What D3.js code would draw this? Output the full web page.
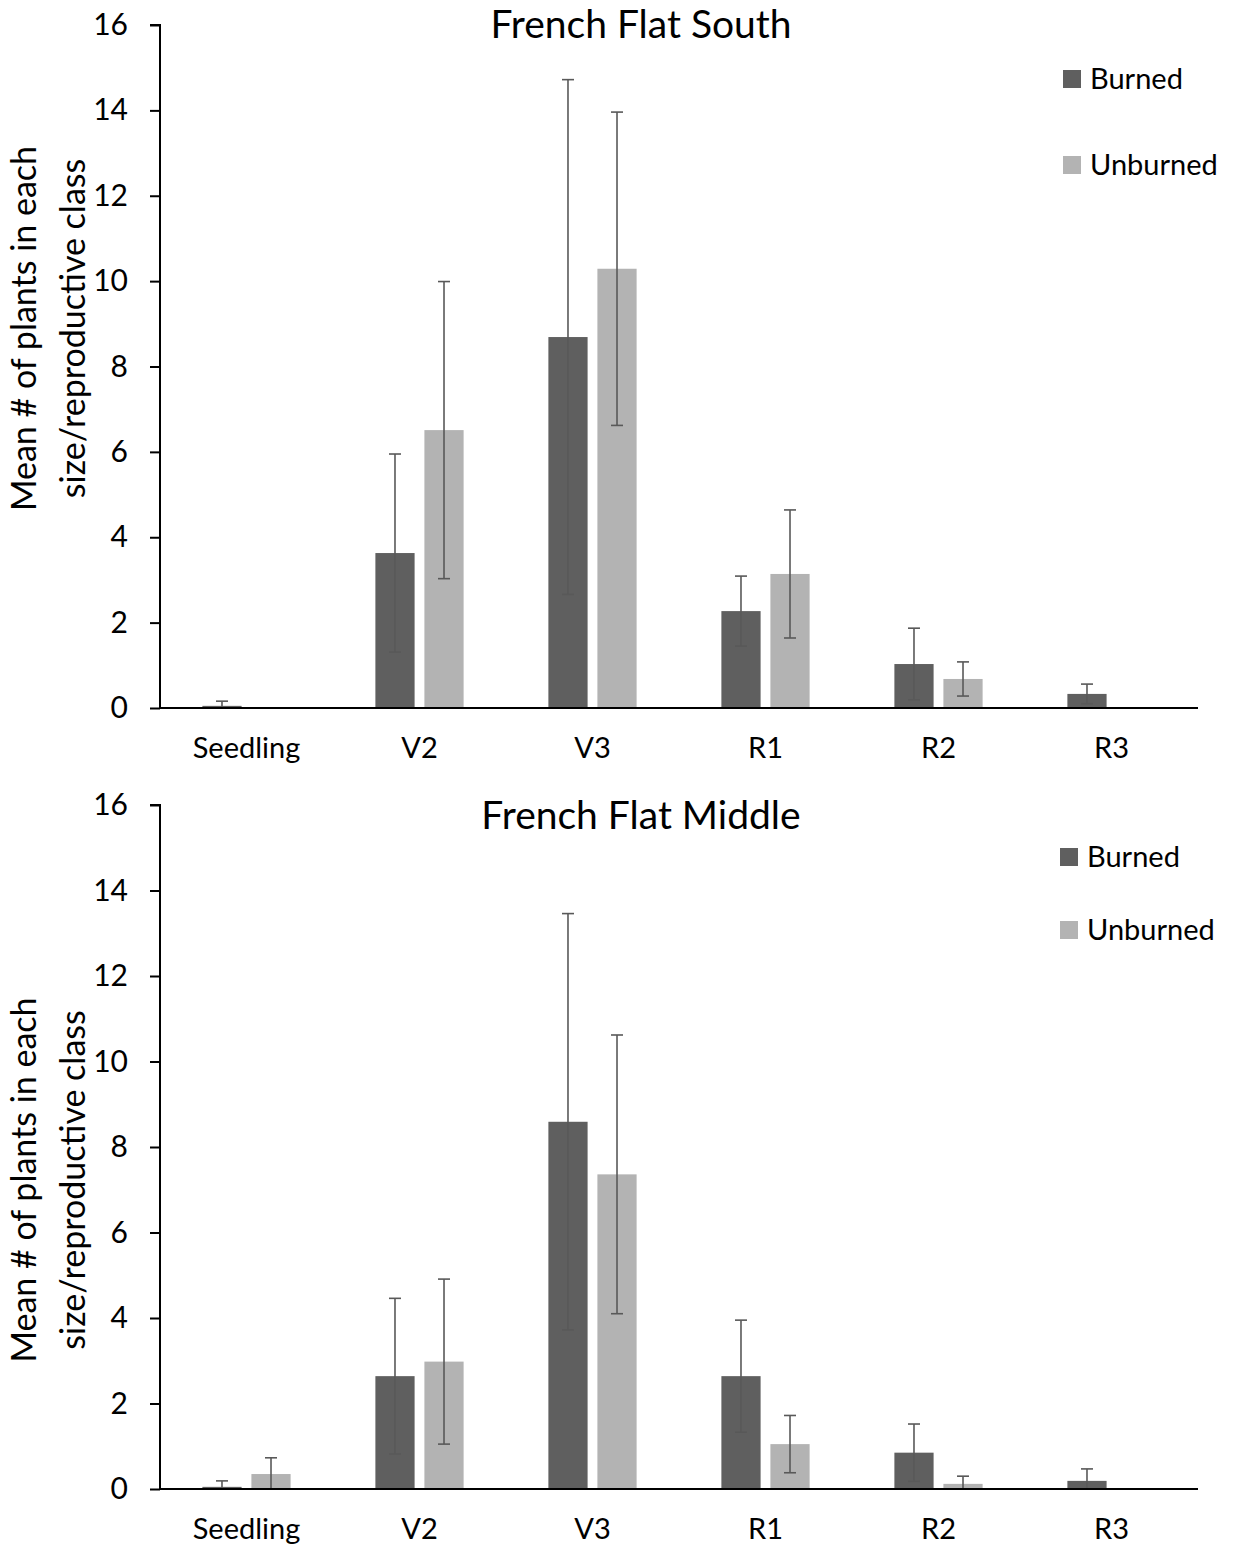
<!DOCTYPE html>
<html>
<head>
<meta charset="utf-8">
<script src="https://cdn.jsdelivr.net/npm/d3@7"></script>
<style>
  body { margin: 0; background: #fff; }
  svg text { font-family: Lato, "Open Sans", sans-serif; fill: #000; }
</style>
</head>
<body>
<div id="chart"></div>
<script>
const categories = ["Seedling", "V2", "V3", "R1", "R2", "R3"];
const series = ["Burned", "Unburned"];
const yTicks = [0, 2, 4, 6, 8, 10, 12, 14, 16];

// French Flat South
const southBurned = [0.05, 3.63, 8.69, 2.27, 1.03, 0.33];
const southUnburned = [0.01, 6.51, 10.29, 3.14, 0.68, 0.01];
const southBurnedErr = [0.11, 2.32, 6.03, 0.82, 0.84, 0.23];
const southUnburnedErr = [0, 3.48, 3.67, 1.5, 0.4, 0];

// French Flat Middle
const middleBurned = [0.05, 2.64, 8.59, 2.64, 0.85, 0.19];
const middleUnburned = [0.35, 2.98, 7.36, 1.05, 0.12, 0];
const middleBurnedErr = [0.14, 1.82, 4.87, 1.31, 0.67, 0.28];
const middleUnburnedErr = [0.38, 1.93, 3.26, 0.67, 0.18, 0];

const colors = { Burned: "#5f5f5f", Unburned: "#b3b3b3" };

const width = 1233, height = 1546;
const svg = d3.select("#chart").append("svg")
    .attr("width", width)
    .attr("height", height);

const x = d3.scaleBand()
    .domain(categories)
    .range([160, 1198])
    .paddingInner(0.49)
    .paddingOuter(0.245);

const x1 = d3.scaleBand()
    .domain(series)
    .range([0, x.bandwidth()])
    .paddingInner(0.2);

function panel(opts) {
    const y = d3.scaleLinear().domain([0, 16]).range([opts.y0, opts.y16]);
    const g = svg.append("g");

    const rows = [];
    categories.forEach((c, i) => {
        rows.push({ cat: c, s: "Burned", v: opts.burned[i], e: opts.burnedErr[i] });
        rows.push({ cat: c, s: "Unburned", v: opts.unburned[i], e: opts.unburnedErr[i] });
    });

    g.selectAll("rect.bar")
        .data(rows)
        .enter()
        .append("rect")
        .attr("class", "bar")
        .attr("x", d => x(d.cat) + x1(d.s))
        .attr("y", d => y(d.v))
        .attr("width", x1.bandwidth())
        .attr("height", d => y(0) - y(d.v))
        .attr("fill", d => colors[d.s]);

    // error bars
    const eb = g.selectAll("g.err")
        .data(rows.filter(d => d.e > 0))
        .enter()
        .append("g")
        .attr("stroke", "#595959")
        .attr("stroke-width", 1.6);
    const cx = d => x(d.cat) + x1(d.s) + x1.bandwidth() / 2;
    eb.append("line")
        .attr("x1", cx).attr("x2", cx)
        .attr("y1", d => y(Math.max(0, d.v - d.e)))
        .attr("y2", d => y(d.v + d.e));
    eb.append("line")
        .attr("x1", d => cx(d) - 6).attr("x2", d => cx(d) + 6)
        .attr("y1", d => y(d.v + d.e)).attr("y2", d => y(d.v + d.e));
    eb.filter(d => d.v - d.e > 0.05).append("line")
        .attr("x1", d => cx(d) - 6).attr("x2", d => cx(d) + 6)
        .attr("y1", d => y(d.v - d.e)).attr("y2", d => y(d.v - d.e));

    // y axis
    const yAxis = g.append("g")
        .attr("transform", "translate(160,0)")
        .call(d3.axisLeft(y).tickValues(yTicks).tickSize(10).tickPadding(22));
    yAxis.select(".domain").attr("stroke", "#000").attr("stroke-width", 2)
        .attr("d", `M-10,${y(16)}H0V${y(0)}`);
    yAxis.selectAll(".tick line").attr("stroke", "#000").attr("stroke-width", 2);
    yAxis.selectAll(".tick text").attr("font-size", 30).attr("fill", "#000")
        .style("font-family", "Lato, sans-serif");

    // x axis
    const xAxis = g.append("g")
        .attr("transform", `translate(0,${y(0)})`)
        .call(d3.axisBottom(x).tickSize(0).tickPadding(29));
    xAxis.select(".domain").attr("stroke", "#000").attr("stroke-width", 2)
        .attr("d", `M160,0H1198`);
    xAxis.selectAll(".tick text").attr("font-size", 29).attr("fill", "#000")
        .style("font-family", "Lato, sans-serif");

    // title
    g.append("text")
        .attr("x", 641)
        .attr("y", opts.titleY)
        .attr("text-anchor", "middle")
        .attr("font-size", 39)
        .text(opts.title);

    // y-axis title
    const cy = (y(0) + y(16)) / 2 + opts.ytOff;
    const yt = g.append("text")
        .attr("transform", `translate(0,${cy}) rotate(-90)`)
        .attr("text-anchor", "middle")
        .attr("font-size", 34);
    yt.append("tspan").attr("x", 0).attr("y", 36).text("Mean # of plants in each");
    yt.append("tspan").attr("x", 0).attr("y", 85).text("size/reproductive class");

    // legend
    const lg = g.selectAll("g.legend")
        .data(series)
        .enter()
        .append("g")
        .attr("transform", (d, i) => `translate(${opts.legX},${opts.legY + i * opts.legStep})`);
    lg.append("rect")
        .attr("width", 18).attr("height", 18)
        .attr("y", -9)
        .attr("fill", d => colors[d]);
    lg.append("text")
        .attr("x", 27)
        .attr("y", 10)
        .attr("font-size", 29)
        .text(d => d);
}

panel({
    y0: 708, y16: 25, title: "French Flat South", titleY: 38, ytOff: -38,
    burned: southBurned, unburned: southUnburned,
    burnedErr: southBurnedErr, unburnedErr: southUnburnedErr,
    legX: 1063, legY: 79, legStep: 86
});

panel({
    y0: 1489, y16: 805, title: "French Flat Middle", titleY: 829, ytOff: 33,
    burned: middleBurned, unburned: middleUnburned,
    burnedErr: middleBurnedErr, unburnedErr: middleUnburnedErr,
    legX: 1060, legY: 857, legStep: 73
});
</script>
</body>
</html>
